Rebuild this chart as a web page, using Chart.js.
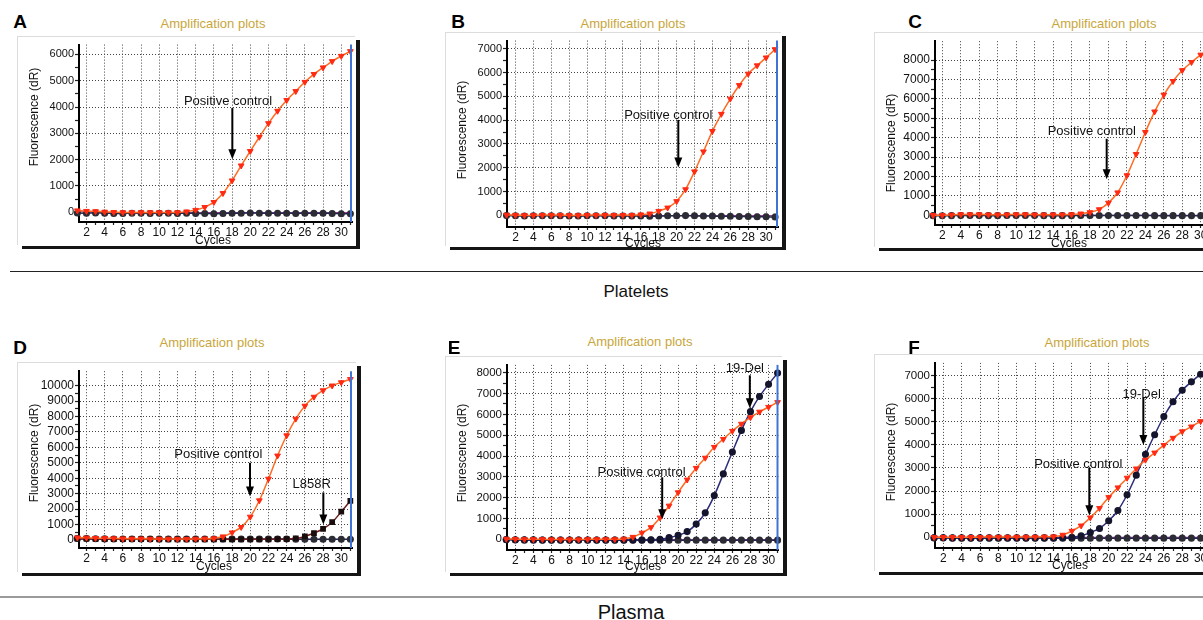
<!DOCTYPE html>
<html><head><meta charset="utf-8">
<script src="https://cdn.jsdelivr.net/npm/chart.js@4.4.1/dist/chart.umd.min.js"></script>
<style>
html,body{margin:0;padding:0;background:#fff;}
body{width:1203px;height:620px;overflow:hidden;position:relative;font-family:"Liberation Sans",Arial,sans-serif}
.frame{position:absolute;background:#fff;box-shadow:4px 3px 0 #151515,-1px -1px 0 #dcdcdc}
canvas{position:absolute}
.txt{position:absolute;white-space:nowrap;transform:translate(-50%,-50%);line-height:1}
.ttl{color:#c9a63a;font-size:13px}
.let{font-weight:bold;font-size:19px;color:#000}
.sep{position:absolute;height:0}
</style></head><body>
<script>
// ---------------- data ----------------
const cycles = [1,2,3,4,5,6,7,8,9,10,11,12,13,14,15,16,17,18,19,20,21,22,23,24,25,26,27,28,29,30,31];
const xTickLabels = [2,4,6,8,10,12,14,16,18,20,22,24,26,28,30];

const A_yTicks = [0,1000,2000,3000,4000,5000,6000];
const B_yTicks = [0,1000,2000,3000,4000,5000,6000,7000];
const C_yTicks = [0,1000,2000,3000,4000,5000,6000,7000,8000];
const D_yTicks = [0,1000,2000,3000,4000,5000,6000,7000,8000,9000,10000];
const E_yTicks = [0,1000,2000,3000,4000,5000,6000,7000,8000];
const F_yTicks = [0,1000,2000,3000,4000,5000,6000,7000];

const A_pos  = [60,40,30,10,0,-10,-10,-10,-10,-10,-10,-10,20,80,190,380,720,1200,1770,2320,2860,3380,3850,4260,4600,4950,5250,5500,5740,5940,6120];
const A_neg1 = [-30,-40,-30,-40,-50,-50,-40,-40,-50,-40,-40,-50,-40,-50,-50,-60,-50,-40,-40,-30,-40,-40,-40,-40,-50,-40,-40,-40,-50,-60,-60];
const A_neg2 = [20,10,0,-10,-20,-20,-20,-20,-20,-20,-20,-20,-20,-20,-20,-20,-20,-20,-20,-20,-20,-20,-20,-20,-20,-20,-20,-20,-20,-20,-20];

const B_pos  = [20,10,0,0,10,10,10,0,0,10,10,10,10,10,10,30,70,180,320,590,1090,1840,2680,3540,4260,4900,5470,5950,6300,6630,6980];
const B_neg1 = [-10,-20,-30,-20,-20,-20,-20,-30,-30,-20,-20,-20,-30,-30,-30,-30,-40,-30,-20,-20,-10,-20,-30,-30,-40,-40,-50,-50,-60,-60,-70];
const B_neg2 = [0,0,-10,-10,-10,-10,-10,-10,-10,-10,-10,-10,-10,-10,-10,-10,-10,-10,-10,-10,-10,-10,-10,-10,-10,-10,-10,-10,-10,-10,-10];

const C_pos  = [0,0,20,40,40,40,30,30,30,40,40,30,30,30,30,40,80,150,300,640,1170,2050,3150,4280,5340,6210,6910,7470,7890,8270,8560];
const C_neg1 = [-20,-30,-20,-10,-10,-10,-20,-20,-10,-10,-10,-10,-20,-20,-20,-20,-10,-10,-10,-10,-10,-10,-10,-10,-20,-20,-20,-20,-20,-20,-20];
const C_neg2 = [10,0,0,0,0,0,0,0,0,0,0,0,0,0,0,0,0,0,0,0,0,0,0,0,0,0,0,0,0,0,0];

const D_pos   = [150,140,120,110,100,90,80,80,70,70,70,60,60,70,80,100,220,480,830,1500,2560,3960,5460,6770,7850,8690,9270,9690,10000,10210,10420];
const D_l858r = [90,80,70,60,60,50,50,50,50,40,40,40,40,40,40,40,40,40,40,40,40,40,50,60,100,230,450,720,1150,1830,2540];
const D_neg1  = [100,90,80,70,60,60,60,60,60,60,60,60,60,60,60,60,60,60,60,60,60,60,60,60,50,50,50,50,50,50,50];
const D_neg2  = [40,40,30,30,30,30,30,30,30,30,30,30,30,30,30,30,30,30,30,30,30,30,30,30,30,30,30,30,30,30,30];

const E_pos  = [20,10,0,0,0,-10,-10,-10,-10,0,0,0,0,20,110,310,575,1040,1610,2250,2860,3420,3910,4430,4810,5200,5540,5850,6120,6350,6580];
const E_del  = [-10,-20,-20,-20,-30,-30,-30,-30,-30,-30,-30,-30,-30,-30,-30,-30,-20,0,80,190,370,730,1270,2100,3140,4190,5230,6130,6860,7440,7980];
const E_neg1 = [-20,-30,-40,-40,-40,-40,-40,-40,-40,-40,-40,-40,-40,-40,-40,-40,-40,-40,-40,-40,-40,-40,-40,-40,-40,-40,-40,-40,-40,-40,-40];
const E_neg2 = [0,0,-10,-10,-10,-10,-10,-10,-10,-10,-10,-10,-10,-10,-10,-10,-10,-10,-10,-10,-10,-10,-10,-10,-10,-10,-10,-10,-10,-10,-10];

const F_pos  = [0,0,0,0,0,0,10,10,10,10,10,10,20,30,100,270,500,850,1260,1730,2150,2570,2970,3350,3660,3990,4300,4580,4790,5020,5190];
const F_del  = [-20,-20,-30,-30,-30,-30,-30,-30,-30,-30,-30,-30,-30,-30,-20,0,60,200,380,710,1160,1840,2690,3590,4440,5230,5870,6370,6730,7060,7240];
const F_neg1 = [-30,-30,-40,-40,-40,-40,-40,-40,-40,-40,-40,-40,-40,-40,-40,-40,-40,-40,-40,-40,-40,-40,-40,-40,-40,-40,-40,-40,-40,-40,-40];
const F_neg2 = [0,0,-10,-10,-10,-10,-10,-10,-10,-10,-10,-10,-10,-10,-10,-10,-10,-10,-10,-10,-10,-10,-10,-10,-10,-10,-10,-10,-10,-10,-10];

// annotation labels (text position + arrow, in cycle / fluorescence units)
const notesA = [{label:'Positive control', tx:17.55, ty:4225, ax:18.03, ay1:3960, ay2:2010}];
const notesB = [{label:'Positive control', tx:19.07, ty:4216, ax:20.19, ay1:4012, ay2:2012}];
const notesC = [{label:'Positive control', tx:18.19, ty:4312, ax:19.81, ay1:3940, ay2:1850}];
const notesD = [{label:'Positive control', tx:16.49, ty:5520, ax:19.97, ay1:5000, ay2:2810},
                {label:'L858R', tx:26.75, ty:3600, ax:28.03, ay1:3080, ay2:1000}];
const notesE = [{label:'Positive control', tx:15.96, ty:3215, ax:18.24, ay1:2980, ay2:965},
                {label:'19-Del', tx:27.38, ty:8190, ax:27.93, ay1:7875, ay2:6290}];
const notesF = [{label:'Positive control', tx:16.69, ty:3165, ax:17.89, ay1:3000, ay2:950},
                {label:'19-Del', tx:23.59, ty:6180, ax:23.77, ay1:6040, ay2:3990}];

// ---------------- styles ----------------
const FONT = '"Liberation Sans", Arial, sans-serif';
const pts = d => d.map((v,i)=>({x:cycles[i],y:v}));
function posDS(d){return {data:pts(d),borderColor:'#ff6a22',borderWidth:1.5,pointStyle:'triangle',rotation:180,pointRadius:3.3,pointBackgroundColor:'#ff2a12',pointBorderColor:'#ff2a12',pointBorderWidth:1,tension:0.3,clip:false};}
function delDS(d){return {data:pts(d),borderColor:'#2b2b7a',borderWidth:1.5,pointStyle:'circle',pointRadius:2.8,pointBackgroundColor:'#15152e',pointBorderColor:'#15152e',tension:0.3,clip:false};}
function sqDS(d){return {data:pts(d),borderColor:'#6e1c1c',borderWidth:1.5,pointStyle:'rect',pointRadius:3,pointBackgroundColor:'#1a0d0d',pointBorderColor:'#1a0d0d',tension:0.3,clip:false};}
function neg1DS(d){return {data:pts(d),borderColor:'#22225a',borderWidth:1.5,pointStyle:'circle',pointRadius:2.8,pointBackgroundColor:'#2c2c34',pointBorderColor:'#2c2c34',tension:0.2,clip:false};}
function neg2DS(d){return {data:pts(d),borderColor:'#a040a8',borderWidth:1.2,pointStyle:'rect',pointRadius:1.8,pointBackgroundColor:'#5a5a5a',pointBorderColor:'#5a5a5a',tension:0.2,clip:false};}

const panels = [
  {letter:'A', L:[20,21], T:[213,23], frame:{l:18,t:37,r:356,b:246}, area:{l:79,t:42,r:352,b:222}, x:[1.18,31.18], y:[-375,6375], fy:11, yTicks:A_yTicks,
   yt:[35,117], xt:[213,241], ds:[posDS(A_pos),neg1DS(A_neg1),neg2DS(A_neg2)], notes:notesA},
  {letter:'B', L:[458,21], T:[633,23], frame:{l:446,t:33,r:782,b:247}, area:{l:507,t:35,r:778,b:227}, x:[1.05,31.33], y:[-490,7347], fy:11, yTicks:B_yTicks,
   yt:[463,130], xt:[643,244], ds:[posDS(B_pos),neg1DS(B_neg1),neg2DS(B_neg2)], notes:notesB},
  {letter:'C', L:[915,21], T:[1104,23], frame:{l:875,t:33,r:1218,b:248}, area:{l:935,t:37,r:1212,b:225}, x:[1.21,31.22], y:[-503,8971], fy:12, yTicks:C_yTicks,
   yt:[892,143], xt:[1069,244], ds:[posDS(C_pos),neg1DS(C_neg1),neg2DS(C_neg2)], notes:notesC},
  {letter:'D', L:[20,347], T:[212,342], frame:{l:18,t:363,r:357,b:573}, area:{l:79,t:365,r:352,b:548}, x:[1.18,31.18], y:[-520,10937], fy:12, yTicks:D_yTicks,
   yt:[35,453], xt:[214,567], ds:[posDS(D_pos),sqDS(D_l858r),neg1DS(D_neg1),neg2DS(D_neg2)], notes:notesD},
  {letter:'E', L:[454,347], T:[640,341], frame:{l:446,t:357,r:783,b:573}, area:{l:507,t:359,r:778.5,b:550}, x:[1.08,31.1], y:[-513,8374], fy:11.5, yTicks:E_yTicks,
   yt:[463,453], xt:[643,567], ds:[posDS(E_pos),delDS(E_del),neg1DS(E_neg1),neg2DS(E_neg2)], notes:notesE},
  {letter:'F', L:[914,347], T:[1097,342], frame:{l:875,t:355,r:1218,b:572}, area:{l:935,t:359,r:1212,b:548}, x:[1.1,31.24], y:[-467,7552], fy:11.5, yTicks:F_yTicks,
   yt:[892,452], xt:[1070,566], ds:[posDS(F_pos),delDS(F_del),neg1DS(F_neg1),neg2DS(F_neg2)], notes:notesF}
];

const overlay = {
  id:'overlay',
  afterDatasetsDraw(chart, args, o){
    const {ctx, chartArea:ca, scales:{x,y}} = chart;
    ctx.save();
    ctx.strokeStyle = '#3f74d6'; ctx.lineWidth = 2;
    ctx.beginPath(); ctx.moveTo(ca.right-1, ca.top); ctx.lineTo(ca.right-1, ca.bottom); ctx.stroke();
    (o.notes||[]).forEach(n=>{
      ctx.font = '13px '+FONT; ctx.fillStyle = '#111'; ctx.textAlign='center'; ctx.textBaseline='middle';
      ctx.fillText(n.label, x.getPixelForValue(n.tx), y.getPixelForValue(n.ty));
      const ax = x.getPixelForValue(n.ax), a1 = y.getPixelForValue(n.ay1), a2 = y.getPixelForValue(n.ay2);
      ctx.strokeStyle='#000'; ctx.lineWidth=2;
      ctx.beginPath(); ctx.moveTo(ax, a1); ctx.lineTo(ax, a2-8); ctx.stroke();
      ctx.fillStyle='#000';
      ctx.beginPath(); ctx.moveTo(ax-4, a2-10); ctx.lineTo(ax+4, a2-10); ctx.lineTo(ax, a2); ctx.closePath(); ctx.fill();
    });
    ctx.restore();
  },
  afterDraw(chart, args, o){
    const ctx = chart.ctx;
    ctx.save();
    ctx.fillStyle='#111'; ctx.textAlign='center'; ctx.textBaseline='middle';
    ctx.font = '12px '+FONT;
    ctx.fillText('Cycles', o.xt[0], o.xt[1]);
    ctx.translate(o.yt[0], o.yt[1]); ctx.rotate(-Math.PI/2);
    ctx.fillText('Fluorescence (dR)', 0, 0);
    ctx.restore();
  }
};

function addText(cls, txt, x, y, extra){
  const d = document.createElement('div'); d.className='txt '+cls; d.textContent=txt;
  d.style.left=x+'px'; d.style.top=y+'px'; if(extra) Object.assign(d.style, extra);
  document.body.appendChild(d);
}

panels.forEach(p=>{
  const f = p.frame, a = p.area;
  const fw = f.r-f.l, fh = f.b-f.t;
  const fr = document.createElement('div'); fr.className='frame';
  Object.assign(fr.style,{left:f.l+'px',top:f.t+'px',width:fw+'px',height:fh+'px'});
  document.body.appendChild(fr);
  const cw = fw, ch = fh+10;
  const cv = document.createElement('canvas'); cv.width=cw; cv.height=ch;
  Object.assign(cv.style,{left:f.l+'px',top:f.t+'px',width:cw+'px',height:ch+'px'});
  document.body.appendChild(cv);
  const padTop = a.t-f.t, padRight = fw-(a.r-f.l), yW = a.l-f.l, xH = ch-(a.b-f.t);
  addText('ttl','Amplification plots',p.T[0],p.T[1]);
  addText('let',p.letter,p.L[0],p.L[1]);
  // major ticks from the tick-label lists, minor ticks half-way between
  const yTickVals = [];
  p.yTicks.forEach((v,i)=>{ yTickVals.push(v); if(i<p.yTicks.length-1) yTickVals.push((v+p.yTicks[i+1])/2); });
  const yMajor = new Set(p.yTicks), xMajor = new Set(xTickLabels);
  new Chart(cv,{
    type:'line',
    data:{datasets:p.ds},
    plugins:[overlay],
    options:{
      responsive:false, animation:false, devicePixelRatio:1,
      layout:{autoPadding:false, padding:{top:padTop,right:padRight,left:0,bottom:0}},
      plugins:{legend:{display:false}, tooltip:{enabled:false},
        overlay:{notes:p.notes, xt:[p.xt[0]-f.l,p.xt[1]-f.t], yt:[p.yt[0]-f.l,p.yt[1]-f.t]}},
      scales:{
        x:{type:'linear', min:p.x[0], max:p.x[1], afterFit:s=>{s.height=xH;},
          afterBuildTicks:s=>{ s.ticks = cycles.map(v=>({value:v})).filter(t=>t.value<=p.x[1] && t.value>=p.x[0]); },
          ticks:{autoSkip:false, maxRotation:0, minRotation:0, padding:0, color:'#111',
            font:{size:12,family:FONT}, callback:v=>(xMajor.has(v)?String(v):'')},
          grid:{color:c=>(c.tick && xMajor.has(c.tick.value))?'#444':'rgba(0,0,0,0)', lineWidth:1, drawTicks:true, tickLength:3, tickColor:'#222', tickWidth:1.2, tickBorderDash:[]},
          border:{display:true,color:'#000',width:2,dash:[1,2]}},
        y:{type:'linear', min:p.y[0], max:p.y[1], afterFit:s=>{s.width=yW;},
          afterBuildTicks:s=>{ s.ticks = yTickVals.map(v=>({value:v})); },
          ticks:{autoSkip:false, padding:1, color:'#111',
            font:{size:p.fy,family:FONT}, callback:v=>(yMajor.has(v)?String(v):'')},
          grid:{color:c=>(c.tick && yMajor.has(c.tick.value))?'#444':'rgba(0,0,0,0)', lineWidth:1, drawTicks:true, tickLength:4, tickColor:'#222', tickWidth:1.2, tickBorderDash:[]},
          border:{display:true,color:'#000',width:2,dash:[1,2]}}
      }
    }
  });
});

// separators and group labels
function sep(x,y,w,h,c){const d=document.createElement('div');d.className='sep';Object.assign(d.style,{left:x+'px',top:y+'px',width:w+'px',borderTop:h+'px solid '+c});document.body.appendChild(d);}
sep(10,270.5,1193,1,'#222');
sep(0,596,1203,2,'#9a9a9a');
addText('','Platelets',636,291,{fontSize:'17px',color:'#111'});
addText('','Plasma',631,612,{fontSize:'20px',color:'#111'});
</script>
</body></html>
